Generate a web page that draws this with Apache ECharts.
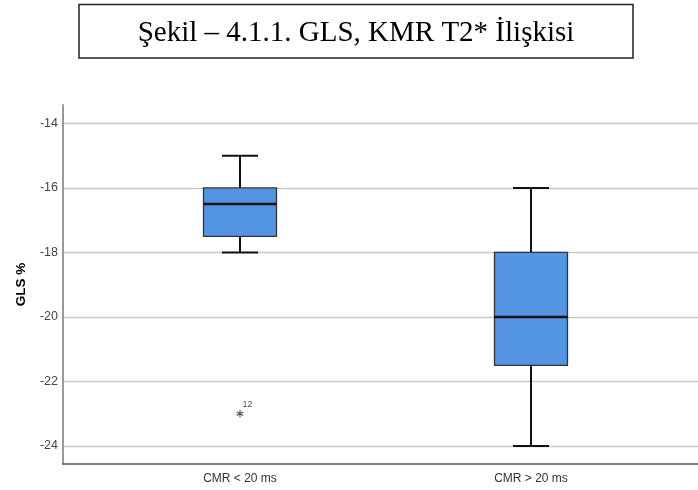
<!DOCTYPE html>
<html>
<head>
<meta charset="utf-8">
<script src="https://cdn.jsdelivr.net/npm/echarts@6/dist/echarts.min.js"></script>
<style>html,body{margin:0;padding:0;background:#fff}#c{width:698px;height:490px}</style>
</head>
<body>
<div id="c"></div>
<script>
const titleText = 'Şekil – 4.1.1. GLS, KMR T2* İlişkisi';
const categories = ['CMR < 20 ms', 'CMR > 20 ms'];
const whiskerMin = [-18, -24];
const q1 = [-17.5, -21.5];
const median = [-16.5, -20];
const q3 = [-16, -18];
const whiskerMax = [-15, -16];
const outliers = [[0, -23, '12']];
const yMin = -24.56;
const yMax = -13.43;
const yAxisName = 'GLS %';

const boxData = categories.map((c, i) => [i, whiskerMin[i], q1[i], median[i], q3[i], whiskerMax[i]]);

const chart = echarts.init(document.getElementById('c'), null, {renderer: 'canvas'});

const BOX_W = 73, CAP_W = 36;

function renderBox(params, api) {
  const x = api.value(0);
  const pMin = api.coord([x, api.value(1)]);
  const pQ1 = api.coord([x, api.value(2)]);
  const pMed = api.coord([x, api.value(3)]);
  const pQ3 = api.coord([x, api.value(4)]);
  const pMax = api.coord([x, api.value(5)]);
  const cx = pMed[0];
  const line = (x1, y1, x2, y2, w) => ({
    type: 'line', shape: {x1, y1, x2, y2},
    style: {stroke: '#111', lineWidth: w}
  });
  return {
    type: 'group',
    children: [
      line(cx, pMax[1], cx, pQ3[1], 2),
      line(cx, pQ1[1], cx, pMin[1], 2),
      line(cx - CAP_W / 2, pMax[1], cx + CAP_W / 2, pMax[1], 2),
      line(cx - CAP_W / 2, pMin[1], cx + CAP_W / 2, pMin[1], 2),
      {
        type: 'rect',
        shape: {x: cx - BOX_W / 2, y: pQ3[1], width: BOX_W, height: pQ1[1] - pQ3[1]},
        style: {fill: '#5394E3', stroke: '#333', lineWidth: 1.3}
      },
      line(cx - BOX_W / 2, pMed[1], cx + BOX_W / 2, pMed[1], 2.5)
    ]
  };
}

const asterisk = 'path://M-0.15,-1L0.15,-1L0.15,1L-0.15,1Z' +
  'M-0.941,-0.37L-0.791,-0.63L0.941,0.37L0.791,0.63Z' +
  'M-0.791,0.63L-0.941,0.37L0.791,-0.63L0.941,-0.37Z';

const axisFont = 'Liberation Sans';

chart.setOption({
  animation: false,
  backgroundColor: '#fff',
  graphic: [
    {
      type: 'rect', z: 10,
      shape: {x: 79, y: 4.5, width: 554, height: 53.5},
      style: {fill: '#fff', stroke: '#222', lineWidth: 1.5}
    },
    {
      type: 'text', z: 11,
      x: 356, y: 33,
      style: {
        text: titleText, fill: '#000',
        font: '29px "Liberation Serif"',
        align: 'center', verticalAlign: 'middle'
      }
    }
  ],
  grid: [
    {left: 63, right: 0, top: 105, height: 359},
    {left: 94.5, width: 582, top: 105, height: 359}
  ],
  xAxis: [
    {
      gridIndex: 0, type: 'category', data: [''],
      axisLine: {show: true, lineStyle: {color: '#555', width: 1.5}},
      axisTick: {show: false}, axisLabel: {show: false}, splitLine: {show: false}
    },
    {
      gridIndex: 1, type: 'category', data: categories,
      axisLine: {show: false}, axisTick: {show: false},
      axisLabel: {show: true, color: '#333', fontFamily: axisFont, fontSize: 12, margin: 9},
      splitLine: {show: false}
    }
  ],
  yAxis: [
    {
      gridIndex: 0, type: 'value', min: yMin, max: yMax, splitNumber: 5,
      name: yAxisName, nameLocation: 'middle', nameGap: 35, nameRotate: 90,
      nameTextStyle: {fontFamily: axisFont, fontSize: 13.5, fontWeight: 'bold', color: '#000'},
      axisLine: {show: true, lineStyle: {color: '#999', width: 2}},
      axisTick: {show: false},
      axisLabel: {
        color: '#444', fontFamily: axisFont, fontSize: 12.5, margin: 5,
        showMinLabel: true, showMaxLabel: true,
        formatter: v => (Math.abs(v - Math.round(v)) < 1e-6 ? String(Math.round(v)) : '')
      },
      splitLine: {show: true, showMinLine: false, showMaxLine: false, lineStyle: {color: '#c8c8c8', width: 1.3}}
    },
    {
      gridIndex: 1, type: 'value', min: yMin, max: yMax, show: false,
      splitLine: {show: false}
    }
  ],
  series: [
    {
      type: 'custom', xAxisIndex: 1, yAxisIndex: 1,
      renderItem: renderBox,
      encode: {x: 0, y: [1, 2, 3, 4, 5]},
      data: boxData
    },
    {
      type: 'scatter', xAxisIndex: 1, yAxisIndex: 1,
      symbol: asterisk, symbolSize: 7,
      itemStyle: {color: '#222'},
      label: {
        show: true, position: [6, -10],
        formatter: p => p.data[2],
        fontFamily: axisFont, fontSize: 9, color: '#222'
      },
      data: outliers
    }
  ]
});
</script>
</body>
</html>
